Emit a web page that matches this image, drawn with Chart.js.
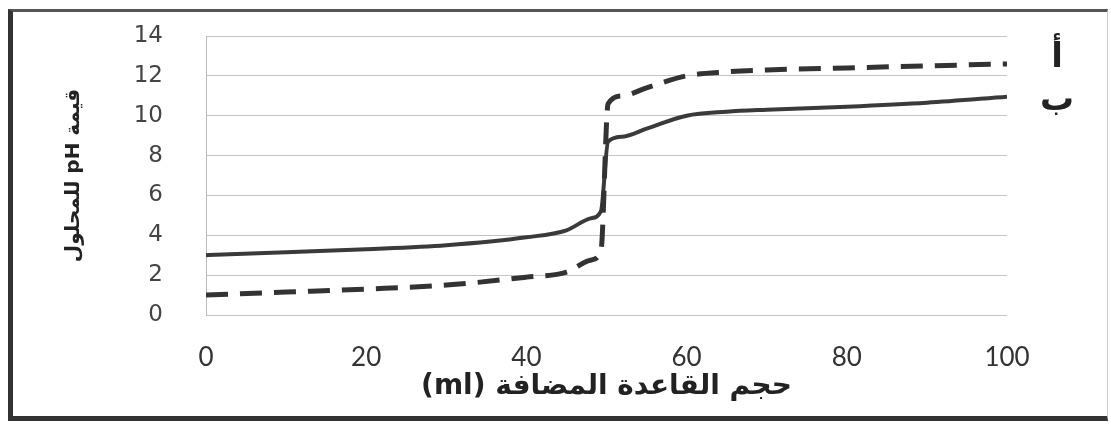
<!DOCTYPE html>
<html>
<head>
<meta charset="utf-8">
<script src="https://cdn.jsdelivr.net/npm/chart.js@4"></script>
<style>
  html, body { margin: 0; padding: 0; background: #fff; }
  #wrap { position: relative; width: 1111px; height: 426px; }
  #frame {
    position: absolute; left: 8px; top: 9px; width: 1100px; height: 412px;
    border-left: 5px solid #333; border-top: 3px solid #555; border-bottom: 5px solid #333;
    border-right: 1px solid #ccc; box-sizing: border-box; pointer-events: none;
  }
</style>
</head>
<body>
<div id="wrap">
  <canvas id="myChart" width="1111" height="426" dir="rtl"></canvas>
  <div id="frame"></div>
</div>
<script>
// volume of base added (ml)
const volume = [0, 10, 20, 30, 40, 45, 48, 49.3, 50.2, 52, 55, 60, 65, 70, 80, 90, 100];
// curve a (dashed)
const phA = [1.0, 1.15, 1.3, 1.5, 1.9, 2.15, 2.75, 3.2, 10.6, 11.0, 11.4, 12.0, 12.2, 12.3, 12.4, 12.5, 12.6];
// curve b (solid)
const phB = [3.0, 3.15, 3.3, 3.5, 3.9, 4.25, 4.85, 5.2, 8.7, 8.95, 9.35, 10.0, 10.2, 10.3, 10.45, 10.65, 10.95];
const curveNames = ['أ', 'ب'];
const xTicks = [0, 20, 40, 60, 80, 100];
const yTicks = [0, 2, 4, 6, 8, 10, 12, 14];

const toPoints = (ys) => volume.map((v, i) => ({ x: v, y: ys[i] }));

// draw the curve letters at the right end of each line
const endLabels = {
  id: 'endLabels',
  afterDatasetsDraw(chart) {
    const ctx = chart.ctx;
    const x = chart.chartArea.right + 50;
    const offsets = [-6, 4];
    ctx.save();
    ctx.fillStyle = '#222';
    ctx.font = 'bold 34px "DejaVu Sans"';
    ctx.textAlign = 'center';
    ctx.textBaseline = 'middle';
    chart.data.datasets.forEach((ds, i) => {
      const last = ds.data[ds.data.length - 1];
      const y = chart.scales.y.getPixelForValue(last.y);
      ctx.fillText(curveNames[i], x, y + offsets[i]);
    });
    ctx.restore();
  }
};

const ctx = document.getElementById('myChart').getContext('2d');
new Chart(ctx, {
  type: 'line',
  data: {
    datasets: [{
      label: curveNames[0],
      data: toPoints(phA),
      borderColor: '#333',
      borderWidth: 5,
      borderDash: [22, 12],
      pointRadius: 0,
      cubicInterpolationMode: 'monotone',
      fill: false
    }, {
      label: curveNames[1],
      data: toPoints(phB),
      borderColor: '#3a3a3a',
      borderWidth: 4,
      pointRadius: 0,
      cubicInterpolationMode: 'monotone',
      fill: false
    }]
  },
  options: {
    responsive: false,
    animation: false,
    layout: { padding: { left: 0, top: 36, right: 104, bottom: 0 } },
    plugins: { legend: { display: false }, tooltip: { enabled: false } },
    scales: {
      x: {
        type: 'linear',
        min: 0,
        max: 100,
        afterBuildTicks: (s) => { s.ticks = xTicks.map(v => ({ value: v })); },
        afterFit: (s) => { s.height = 111; },
        grid: { display: false, drawTicks: false },
        border: { display: false },
        ticks: {
          padding: 27,
          maxRotation: 0,
          color: '#333',
          font: { family: 'Lato', size: 26 }
        },
        title: {
          display: true,
          text: 'حجم القاعدة المضافة (ml)',
          color: '#222',
          font: { family: 'DejaVu Sans', size: 28, weight: 'bold' },
          padding: { top: 0, bottom: 22 }
        }
      },
      y: {
        min: 0,
        max: 14,
        afterBuildTicks: (s) => { s.ticks = yTicks.map(v => ({ value: v })); },
        afterFit: (s) => { s.width = 206; },
        grid: { color: '#c4c4c4', lineWidth: 1, drawTicks: true, tickLength: 40, tickColor: 'rgba(0,0,0,0)' },
        border: { display: true, color: '#bbb' },
        ticks: {
          padding: 3,
          color: '#444',
          font: { family: 'DejaVu Sans', size: 23 }
        },
        title: {
          display: true,
          text: 'قيمة pH للمحلول',
          color: '#222',
          font: { family: 'DejaVu Sans', size: 20, weight: 'bold' },
          padding: { top: 62, bottom: 0 }
        }
      }
    }
  },
  plugins: [endLabels]
});
</script>
</body>
</html>
